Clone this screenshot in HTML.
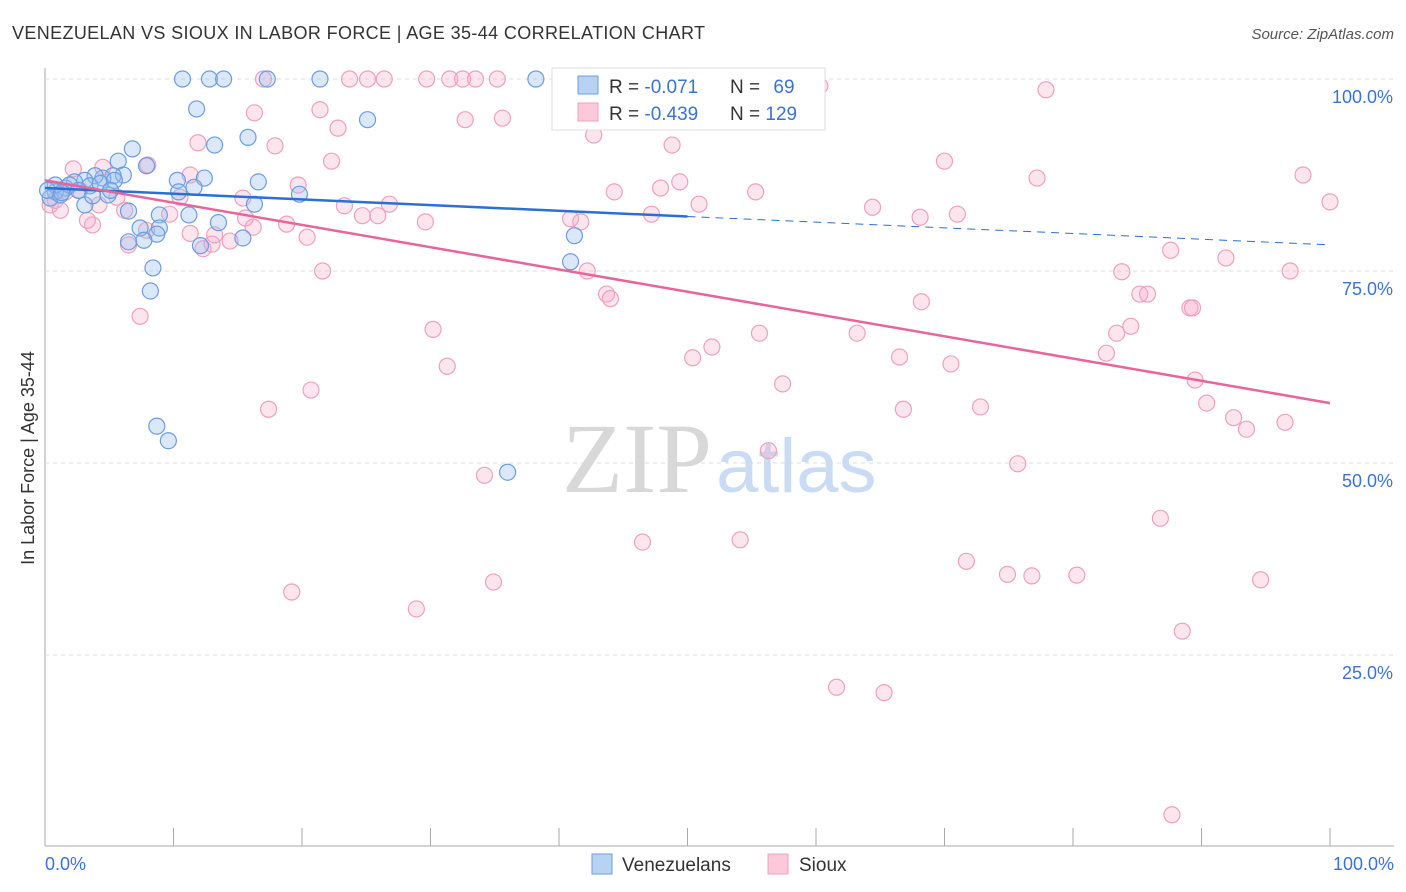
<!DOCTYPE html>
<html><head><meta charset="utf-8">
<style>
body{margin:0;background:#fff;font-family:"Liberation Sans",sans-serif;}
#wrap{position:relative;width:1406px;height:892px;overflow:hidden;}
</style></head>
<body>
<div id="wrap">
<svg id="svg" width="1406" height="892" xmlns="http://www.w3.org/2000/svg">
<text x="12" y="39" font-size="18" fill="#333" textLength="693">VENEZUELAN VS SIOUX IN LABOR FORCE | AGE 35-44 CORRELATION CHART</text>
<text x="1394" y="39" font-size="15" fill="#555" font-style="italic" text-anchor="end">Source: ZipAtlas.com</text>
<g id="grid"></g>
<text x="712" y="492" font-size="100" fill="#d8d8d8" text-anchor="end" font-family="Liberation Serif,serif">ZIP</text>
<text x="716" y="492" font-size="76" fill="#c9dcf3">atlas</text>
<g id="pts"></g>
<g id="lines"></g>
<text transform="translate(34,458) rotate(-90)" font-size="18" fill="#333" text-anchor="middle">In Labor Force | Age 35-44</text>
<g>
<rect x="552" y="68" width="273" height="62" fill="#fff" stroke="#ddd"/>
<rect x="578" y="76" width="20" height="18" fill="#b8d2f3" stroke="#6d9de0"/>
<rect x="578" y="103" width="20" height="18" fill="#fbc9da" stroke="#f0a0bd"/>
<text x="609" y="93" font-size="19" fill="#333">R = <tspan fill="#3a72d6">-0.071</tspan></text>
<text x="730" y="93" font-size="19" fill="#333">N = <tspan fill="#3a72d6" dx="8">69</tspan></text>
<text x="609" y="120" font-size="19" fill="#333">R = <tspan fill="#3a72d6">-0.439</tspan></text>
<text x="730" y="120" font-size="19" fill="#333">N = <tspan fill="#3a72d6">129</tspan></text>
</g>
<g>
<rect x="592" y="854" width="20" height="20" fill="#b8d2f3" stroke="#6d9de0"/>
<text x="622" y="871" font-size="19" fill="#333">Venezuelans</text></g>
<g>
<rect x="768" y="854" width="20" height="20" fill="#fbc9da" stroke="#f0a0bd"/>
<text x="799" y="871" font-size="19" fill="#333">Sioux</text></g>
</svg>
</div>
<script>
const yTicks=[25,50,75,100];
const xTickLabels=["0.0%","100.0%"];
const blueX=[10.7,12.8,13.9,17.3,21.4,38.2,11.8,25.1,15.8,13.2,6.8,5.7,7.9,6.1,12.4,10.3,16.6,11.6,19.8,16.3,10.4,5.3,4.5,3.9,3.1,2.3,1.6,0.8,0.4,1.2,3.1,4.9,6.5,8.9,11.2,13.5,7.4,8.9,8.7,6.5,7.7,12.1,15.4,41.2,40.9,8.4,8.2,8.7,9.6,36.0,1.9,3.5,4.3,5.4,0.8,0.2,1.3,2.6,3.7,5.1];
const blueY=[100,100,100,100,100,100,96.1,94.7,92.4,91.4,90.9,89.3,88.7,87.5,87.1,86.8,86.6,85.9,85.0,83.7,85.3,87.4,87.1,87.4,86.8,86.6,85.8,85.3,84.5,84.9,83.6,84.9,82.8,82.3,82.3,81.3,80.6,80.6,79.8,78.8,79.0,78.3,79.3,79.6,76.2,75.4,72.4,54.8,52.9,48.8,86.2,86.1,86.4,86.8,86.2,85.5,85.2,85.5,84.8,85.5];
const pinkX=[17.0,23.7,25.1,26.4,29.7,31.5,32.5,33.5,35.2,60.3,77.9,16.3,21.4,32.7,35.6,22.8,42.7,48.8,17.9,11.9,22.3,70.0,8.0,11.3,19.7,49.4,77.2,97.9,44.3,47.9,55.3,64.4,100,15.4,23.3,26.8,47.2,50.9,68.1,71.0,24.7,25.9,29.6,40.9,41.7,18.8,16.2,11.3,14.4,13.0,20.4,12.3,6.5,2.2,4.5,5.6,6.2,3.7,3.3,1.2,0.4,0.8,1.6,2.7,21.6,42.2,83.8,87.6,91.9,96.9,43.7,68.2,85.2,85.8,89.1,89.3,7.4,30.2,84.5,83.4,63.2,55.6,51.9,50.4,82.6,66.5,70.5,31.3,57.4,20.7,89.5,90.4,17.4,66.8,72.8,92.5,93.5,96.5,56.3,34.2,75.7,86.8,46.5,54.1,71.7,74.9,76.8,80.3,94.6,34.9,19.2,28.9,88.5,61.6,65.3,87.7,7.9,9.7,4.2,10.5,13.2,15.6,44.0];
const pinkY=[100,100,100,100,100,100,100,100,100,99.1,98.6,95.6,96.0,94.7,94.9,93.6,92.7,91.4,91.3,91.7,89.3,89.3,88.8,87.5,86.2,86.6,87.1,87.5,85.3,85.8,85.3,83.3,84.0,84.5,83.5,83.7,82.4,83.7,82.0,82.4,82.2,82.2,81.4,81.8,81.4,81.1,80.7,79.9,78.9,78.5,79.4,77.9,78.4,88.3,88.5,84.6,82.9,81.0,81.6,82.9,83.6,84.2,85.3,85.5,75.0,75.0,74.9,77.7,76.7,75.0,72.0,71.0,72.0,72.0,70.2,70.2,69.1,67.4,67.8,66.9,66.9,66.9,65.1,63.7,64.3,63.8,62.9,62.6,60.3,59.5,60.8,57.8,57.0,57.0,57.3,55.9,54.4,55.3,51.6,48.4,49.9,42.8,39.7,40.0,37.2,35.5,35.3,35.4,34.8,34.5,33.2,31.0,28.1,20.8,20.1,4.2,80.3,82.4,83.6,84.6,79.7,81.9,71.4];
const blueTrend=[85.8,78.4];
const pinkTrend=[86.8,57.8];
const X0=45,X1=1330,Y0=847,Y100=79;
const sx=v=>X0+(X1-X0)*v/100;
const sy=v=>Y0-(Y0-Y100)*v/100;
const NS="http://www.w3.org/2000/svg";
function mk(tag,attrs,parent){const e=document.createElementNS(NS,tag);for(const k in attrs)e.setAttribute(k,attrs[k]);parent.appendChild(e);return e;}
const grid=document.getElementById('grid');
let ax=mk('line',{x1:45,y1:68,x2:45,y2:846,stroke:'#aaa'},grid);


let bx=mk('line',{x1:45,y1:846,x2:1394,y2:846,stroke:'#aaa'},grid);


yTicks.forEach(t=>{
 const g=mk('line',{x1:45,y1:sy(t),x2:1394,y2:sy(t),stroke:'#ddd','stroke-dasharray':'4,4'},grid);
 
 
 const l=mk('text',{x:1393,y:sy(t)+24,'font-size':18,fill:'#3a72d6','text-anchor':'end'},grid);
 l.textContent=t.toFixed(1)+'%';
 
 
});
for(let i=1;i<=10;i++){
 const t=mk('line',{x1:sx(i*10),y1:828,x2:sx(i*10),y2:846,stroke:'#aaa'},grid);
 
 
}
[[0,'start',45],[100,'end',1394]].forEach((d,i)=>{
 const l=mk('text',{x:d[2],y:870,'font-size':18,fill:'#3a72d6','text-anchor':d[1]},grid);
 l.textContent=xTickLabels[i];
 
 
});
const pts=document.getElementById('pts');
pinkX.forEach((x,i)=>{
 const c=mk('circle',{cx:sx(x),cy:sy(pinkY[i]),r:8,fill:'rgba(247,170,198,0.3)',stroke:'#f0a0bd','stroke-width':1.2},pts);
 
 
});
blueX.forEach((x,i)=>{
 const c=mk('circle',{cx:sx(x),cy:sy(blueY[i]),r:8,fill:'rgba(150,190,240,0.35)',stroke:'#6d9de0','stroke-width':1.2},pts);
 
 
});
const lines=document.getElementById('lines');
const bmid=blueTrend[0]+(blueTrend[1]-blueTrend[0])*0.5;
let b1=mk('line',{x1:sx(0),y1:sy(blueTrend[0]),x2:sx(50),y2:sy(bmid),stroke:'#2a6fd6','stroke-width':2.5},lines);


let b2=mk('line',{x1:sx(50),y1:sy(bmid),x2:sx(100),y2:sy(blueTrend[1]),stroke:'#2a6fd6','stroke-width':1,'stroke-dasharray':'8,6'},lines);


let p1=mk('line',{x1:sx(0),y1:sy(pinkTrend[0]),x2:sx(100),y2:sy(pinkTrend[1]),stroke:'#e8649a','stroke-width':2.5},lines);


</script>
</body></html>
